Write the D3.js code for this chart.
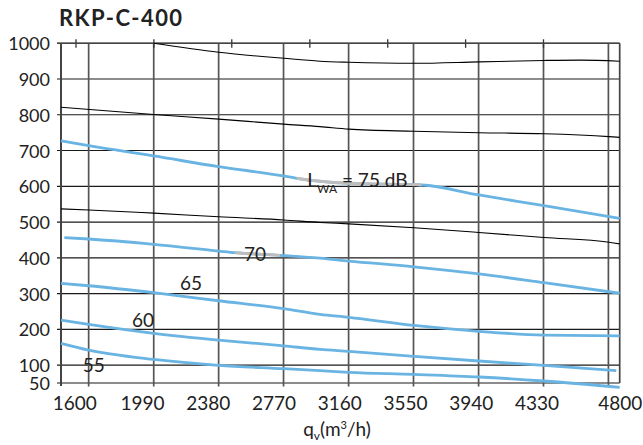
<!DOCTYPE html>
<html>
<head>
<meta charset="utf-8">
<script src="https://cdn.jsdelivr.net/npm/d3@7"></script>
<style>
  html, body { margin: 0; padding: 0; background: #fff; }
  svg { display: block; }
  text { font-family: Lato, "Open Sans", sans-serif; fill: #222; }
</style>
</head>
<body>
<svg id="chart" width="643" height="445"></svg>
<script>
// ---------- data ----------
const title = "RKP-C-400";
const xTickValues = [1600, 1990, 2380, 2770, 3160, 3550, 3940, 4330, 4800];
const yTickValues = [50, 100, 200, 300, 400, 500, 600, 700, 800, 900, 1000];
const yGridValues = [100, 200, 300, 400, 500, 600, 700, 800, 900, 1000];
const xGridValues = [1650, 2036, 2421, 2806, 3192, 3577, 3963, 4348, 4733];
const xTopTickValues = [1575, 2037, 2499, 2962, 3424, 3886, 4348];

// thin black curves
const blackCurve1 = [[2036,1000],[2421,975],[2807,958],[3022,950],[3194,947],[3580,944],[3965,948],[4351,952],[4565,953],[4800,950]];
const blackCurve2 = [[1486,821],[2036,801],[2421,788],[2807,774],[3022,767],[3194,760],[3580,754],[3965,750],[4351,747],[4737,739],[4800,737]];
const blackCurve3 = [[1486,537],[1650,534],[2036,525],[2421,515],[2807,506],[3022,499],[3194,495],[3580,484],[3965,471],[4351,457],[4737,443.5],[4800,439]];

// blue sound power curves
const curve75 = [[1486,727.6],[1650,713.6],[2036,685],[2421,655],[2807,629],[2884,622.5],[3194,608.5],[3625,603.7],[3965,575.8],[4351,546],[4800,510.6]];
const curve70 = [[1506,456.4],[1650,452.7],[2036,437.9],[2421,419],[2518,414.4],[2785,407],[3022,399],[3194,391],[3580,375],[3965,355],[4351,330.5],[4800,301]];
const curve65 = [[1486,328.8],[1650,322],[2036,302.5],[2421,280],[2807,257.8],[3022,242],[3194,233.7],[3580,211],[3965,194.6],[4351,184],[4800,182]];
const curve60 = [[1486,226],[1650,214],[2036,189],[2421,170],[2807,154],[3022,144],[3194,138.6],[3580,124.7],[3965,111.5],[4351,99.5],[4780,84.4]];
const curve55 = [[1486,161],[1650,142],[2036,116],[2421,99.5],[2807,90],[3022,84.4],[3194,80],[3580,74],[3965,66.8],[4351,55.6],[4800,38]];

// grey (label-crossing) sections of curves: [from, to]
const greyRange75 = [2884, 3625];
const greyRange70 = [2518, 2785];

// curve labels
const labelNames = ["55", "60", "65", "70"];
const labelX = [1680, 1972, 2257, 2637];
const labelY = [80.8, 205.8, 310, 391];
const lwaLabelPos = [2947, 597];

// ---------- layout ----------
const svg = d3.select("#chart");
const mLeft = 61, mRight = 619.7, mTop = 43.3, mBottom = 383;
const x = d3.scaleLinear().domain([1486, 4800]).range([mLeft, mRight]);
const y = d3.scaleLinear().domain([50, 1000]).range([mBottom, mTop]);

const blue = "#69b4e2";
const grid = svg.append("g");

grid.selectAll("line.h").data(yGridValues.concat([50])).join("line")
  .attr("x1", mLeft - 4).attr("x2", mRight)
  .attr("y1", d => y(d)).attr("y2", d => y(d))
  .attr("stroke", "#1a1a1a").attr("stroke-width", 1.1);

grid.selectAll("line.v").data(xGridValues).join("line")
  .attr("x1", d => x(d)).attr("x2", d => x(d))
  .attr("y1", mTop).attr("y2", mBottom + 3.5)
  .attr("stroke", "#555").attr("stroke-width", 1.7);

grid.selectAll("line.t").data(xTopTickValues).join("line")
  .attr("x1", d => x(d)).attr("x2", d => x(d))
  .attr("y1", mTop - 4).attr("y2", mTop + 4.5)
  .attr("stroke", "#333").attr("stroke-width", 1.3);

grid.append("line").attr("x1", mLeft).attr("x2", mLeft).attr("y1", mTop).attr("y2", mBottom + 3)
  .attr("stroke", "#444").attr("stroke-width", 2);
grid.append("line").attr("x1", mRight).attr("x2", mRight).attr("y1", mTop).attr("y2", mBottom)
  .attr("stroke", "#444").attr("stroke-width", 1.7);
grid.append("line").attr("x1", mLeft - 4).attr("x2", mRight).attr("y1", mTop).attr("y2", mTop)
  .attr("stroke", "#444").attr("stroke-width", 1.5);

const yAxis = svg.append("g").attr("transform", `translate(${mLeft},0)`)
  .call(d3.axisLeft(y).tickValues(yTickValues).tickSize(0).tickPadding(11).tickFormat(d3.format("d")));
yAxis.select(".domain").remove();
yAxis.selectAll("text").style("font-size", "18px").attr("fill", "#222").attr("dy", "0.36em");

const xAxis = svg.append("g").attr("transform", `translate(0,${mBottom})`)
  .call(d3.axisBottom(x).tickValues(xTickValues).tickSize(0).tickFormat(d3.format("d")));
xAxis.select(".domain").remove();
xAxis.selectAll("text").style("font-size", "19px").attr("fill", "#222")
  .attr("y", 27).attr("dy", 0)
  .attr("dx", (d, i) => i === 0 ? -6 : (i === xTickValues.length - 1 ? 0 : -4));

const line = d3.line().x(d => x(d[0])).y(d => y(d[1])).curve(d3.curveMonotoneX);
[blackCurve1, blackCurve2, blackCurve3].forEach(c => {
  svg.append("path").attr("d", line(c)).attr("fill", "none")
    .attr("stroke", "#000").attr("stroke-width", 1.1);
});
[curve75, curve70, curve65, curve60, curve55].forEach(c => {
  svg.append("path").attr("d", line(c)).attr("fill", "none")
    .attr("stroke", blue).attr("stroke-width", 2.8);
});

const defs = svg.append("defs");
[[curve75, greyRange75, "g75"], [curve70, greyRange70, "g70"]].forEach(([c, r, id]) => {
  defs.append("clipPath").attr("id", id).append("rect")
    .attr("x", x(r[0])).attr("width", x(r[1]) - x(r[0]))
    .attr("y", 0).attr("height", 445);
  svg.append("path").attr("d", line(c)).attr("fill", "none")
    .attr("clip-path", `url(#${id})`)
    .attr("stroke", "#bdbdbd").attr("stroke-width", 2.9);
});

svg.selectAll("text.lbl").data(labelNames).join("text")
  .attr("class", "lbl")
  .attr("x", (d, i) => x(labelX[i])).attr("y", (d, i) => y(labelY[i]))
  .attr("text-anchor", "middle")
  .style("font-size", "19px").text(d => d);

const lwa = svg.append("text").attr("x", x(lwaLabelPos[0])).attr("y", y(lwaLabelPos[1]))
  .style("font-size", "19px");
lwa.append("tspan").text("L");
lwa.append("tspan").attr("dy", 6).style("font-size", "12px").text("WA");
lwa.append("tspan").attr("dy", -6).text(" = 75 dB");

svg.append("text").attr("x", 59).attr("y", 26)
  .style("font-size", "22px").style("font-weight", "bold").style("letter-spacing", "1.4px")
  .text(title);

const xt = svg.append("text").attr("x", 337).attr("y", 436)
  .attr("text-anchor", "middle").style("font-size", "19px");
xt.append("tspan").text("q");
xt.append("tspan").attr("dy", 4).style("font-size", "12px").text("v");
xt.append("tspan").attr("dy", -4).text("(m");
xt.append("tspan").attr("dy", -7).style("font-size", "11px").text("3");
xt.append("tspan").attr("dy", 7).text("/h)");
</script>
</body>
</html>
